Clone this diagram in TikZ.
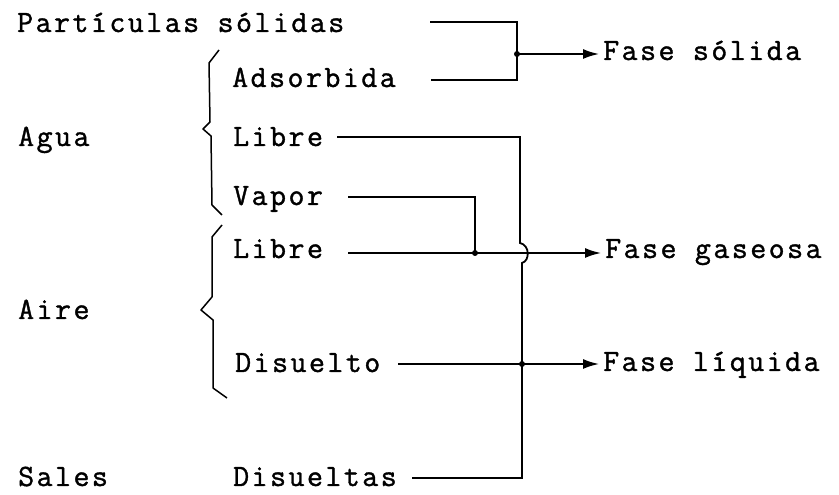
\documentclass[tikz,border=0pt]{standalone}
\usepackage{fontspec}
\setmainfont{Latin Modern Mono}[LetterSpace=8,FakeBold=1.2]
\usetikzlibrary{arrows.meta}
\begin{document}
\begin{tikzpicture}[x=1pt,y=1pt,
  lbl/.style={anchor=base west,inner sep=0pt,font=\fontsize{31}{32}\selectfont},
  conn/.style={line width=1.8pt,line join=miter},
  arr/.style={conn,-{Latex[length=16pt,width=10pt]}},
  brc/.style={line width=1.5pt,line join=round},
  jdot/.style={circle,fill=black,inner sep=0pt,minimum size=6pt}]
\useasboundingbox (0,0) rectangle (839,495);
% labels
\node[lbl] (ps)    at (17,463) {Partículas sólidas};
\node[lbl] (ads)   at (232,408) {Adsorbida};
\node[lbl] (agua)  at (18,349) {Agua};
\node[lbl] (lib1)  at (233,349) {Libre};
\node[lbl] (vap)   at (233,290) {Vapor};
\node[lbl] (lib2)  at (233,237) {Libre};
\node[lbl] (aire)  at (18,176) {Aire};
\node[lbl] (dis)   at (235,123) {Disuelto};
\node[lbl] (sales) at (18,9) {Sales};
\node[lbl] (diss)  at (233,9) {Disueltas};
\node[lbl] (fs)    at (603,435) {Fase sólida};
\node[lbl] (fg)    at (605,237) {Fase gaseosa};
\node[lbl] (fl)    at (603,124) {Fase líquida};
% line start points and corners
\coordinate (psl) at (430,473);
\coordinate (adl) at (431,415);
\coordinate (c1a) at (517,473);
\coordinate (c1b) at (517,415);
\coordinate (j1)  at (517,441);
\coordinate (fsa) at (599,441);
\coordinate (l1l) at (337,358);
\coordinate (c2a) at (520,358);
\coordinate (h1)  at (520,252);
\coordinate (h2)  at (522,232);
\coordinate (c2b) at (522,17);
\coordinate (dsl) at (412,17);
\coordinate (vpl) at (348,298);
\coordinate (c3a) at (475,298);
\coordinate (j3)  at (475,242);
\coordinate (l2l) at (348,242);
\coordinate (fga) at (601,242);
\coordinate (dil) at (398,131);
\coordinate (j4)  at (522,131);
\coordinate (fla) at (599,131);
% connectors
\draw[conn] (psl) -- (c1a) -- (c1b) -- (adl);
\draw[arr] (j1) -- (fsa);
\draw[conn] (l1l) -- (c2a) -- (h1) .. controls (530,250) and (530,234) .. (h2) -- (c2b) -- (dsl);
\draw[conn] (vpl) -- (c3a) -- (j3);
\draw[arr] (l2l) -- (fga);
\draw[arr] (dil) -- (fla);
\node[jdot] at (j1) {};
\node[jdot] at (j3) {};
\node[jdot] at (j4) {};
% braces
\draw[brc] (219,445) -- (209,432) -- (210,373) -- (203,366) -- (211,359) -- (212,290) -- (222,280);
\draw[brc] (222,270) -- (212,258) -- (212,198) -- (201,185) -- (213,175) -- (213,107) -- (227,97);
\end{tikzpicture}
\end{document}
